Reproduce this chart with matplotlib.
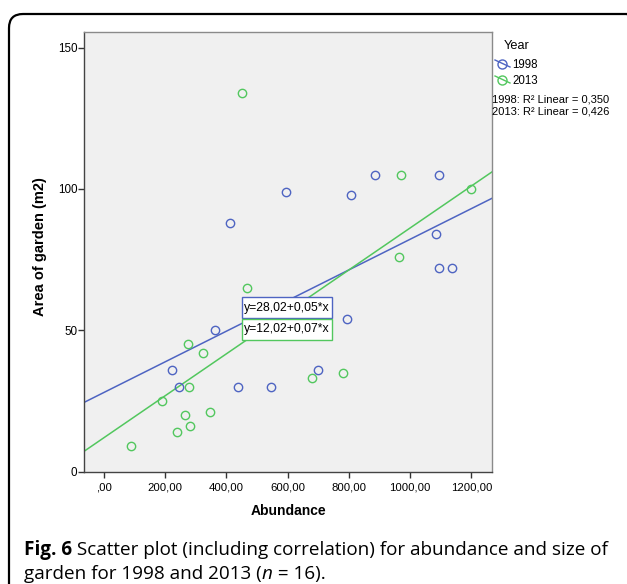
import numpy as np
import matplotlib
matplotlib.use("Agg")
import matplotlib.pyplot as plt
from matplotlib.patches import FancyBboxPatch, Rectangle
from matplotlib.lines import Line2D
from matplotlib.transforms import IdentityTransform

# data
abund_1998 = [221, 244, 362, 411, 438, 544, 593, 698, 793, 806, 885, 1083, 1094, 1095, 1138]
area_1998 = [36, 30, 50, 88, 30, 30, 99, 36, 54, 98, 105, 84, 105, 72, 72]
abund_2013 = [87, 190, 237, 265, 273, 278, 282, 325, 346, 450, 466, 680, 780, 963, 971, 1197]
area_2013 = [9, 25, 14, 20, 45, 30, 16, 42, 21, 134, 65, 33, 35, 76, 105, 100]

fit_1998 = (28.02, 0.0542)
fit_2013 = (12.02, 0.0742)
eq_1998 = "y=28,02+0,05*x"
eq_2013 = "y=12,02+0,07*x"
r2_1998 = "0,350"
r2_2013 = "0,426"

x_ticks = [0, 200, 400, 600, 800, 1000, 1200]
y_ticks = [0, 50, 100, 150]

blue = "#4e64c2"
green = "#52c75e"

W, H = 627, 584
plt.rcParams["font.family"] = ["Liberation Sans", "DejaVu Sans"]

fig = plt.figure(figsize=(W / 100, H / 100), dpi=100)


def px(x, y):
    return x / W, 1 - y / H


ax = fig.add_axes([84 / W, 1 - 471.7 / H, (492.3 - 84) / W, (471.7 - 32.3) / H])
ax.set_facecolor("#f0f0f0")
ax.set_xlim(-65, 1268)
ax.set_ylim(0, 155.4)

for s in ["left", "bottom"]:
    ax.spines[s].set_color("#444444")
for s in ["top", "right"]:
    ax.spines[s].set_color("#8a8a8a")
for s in ax.spines.values():
    s.set_linewidth(1.0)

ax.set_xticks(x_ticks)
ax.set_xticklabels([",00" if t == 0 else f"{t},00" for t in x_ticks])
ax.set_yticks(y_ticks)
ax.tick_params(axis="x", length=4.3, width=1.0, pad=3.5, labelsize=8.2, color="#333333")
ax.tick_params(axis="y", length=4.3, width=1.0, pad=0.6, labelsize=8.4, color="#333333")

# regression lines
xl = np.array(ax.get_xlim())
ax.plot(xl, fit_1998[0] + fit_1998[1] * xl, color=blue, lw=1.1, zorder=2)
ax.plot(xl, fit_2013[0] + fit_2013[1] * xl, color=green, lw=1.1, zorder=2)

ax.plot(abund_1998, area_1998, "o", ms=6, mfc="none", mec=blue, mew=1.0, zorder=3)
ax.plot(abund_2013, area_2013, "o", ms=6, mfc="none", mec=green, mew=1.0, zorder=3)

# equation boxes
bx, bw, bh = (242.3 - 84) / 408.3, 89.7 / 408.3, 21 / 439.4
for i, (txt, col) in enumerate([(eq_1998, blue), (eq_2013, green)]):
    y0 = (471.7 - 318.3 - 21.5 * i) / 439.4
    ax.add_patch(Rectangle((bx, y0), bw, bh, transform=ax.transAxes,
                           facecolor="white", edgecolor=col, lw=1.0, zorder=5))
    ax.text(bx + bw / 2, y0 + bh / 2, txt, transform=ax.transAxes,
            ha="center", va="center", fontsize=8.8, zorder=6)

# axis titles
fig.text(*px(288, 511), "Abundance", ha="center", va="center",
         fontsize=10, fontweight="bold")
fig.text(*px(40, 247), "Area of garden (m2)", ha="center", va="center",
         rotation=90, fontsize=10.5, fontweight="bold")

# legend
fig.text(*px(504, 46), "Year", ha="left", va="center", fontsize=9.2)
for yy, col, lab in [(64, blue, "1998"), (80, green, "2013")]:
    fig.add_artist(Line2D([495 / W, 510 / W], [1 - (yy - 4) / H, 1 - (yy + 3) / H],
                          color=col, lw=1.0))
    fig.add_artist(Line2D([502 / W], [1 - yy / H], marker="o", ms=6.5,
                          mfc="none", mec=col, mew=1.0))
    fig.text(*px(512, yy + 1), lab, ha="left", va="center", fontsize=8.3)
fig.text(*px(492, 99), "1998: R² Linear = " + r2_1998, ha="left", va="center", fontsize=8.0)
fig.text(*px(492, 111.5), "2013: R² Linear = " + r2_2013, ha="left", va="center", fontsize=8.0)

# rounded frame, right side runs off the picture
fig.patches.append(FancyBboxPatch((9, -60), 632, H - 14 + 60,
                                  boxstyle="round,pad=0,rounding_size=14",
                                  transform=IdentityTransform(), fill=False,
                                  edgecolor="black", lw=1.6))

# caption
cap_font = ["Open Sans", "DejaVu Sans"]
cap_size = 13.6
renderer = fig.canvas.get_renderer()


def write_line(pieces, x, y):
    for txt, weight, style in pieces:
        t = fig.text(x / W, 1 - y / H, txt, ha="left", va="baseline",
                     fontsize=cap_size, family=cap_font, fontweight=weight,
                     fontstyle=style)
        bb = t.get_window_extent(renderer=renderer)
        x += bb.width


write_line([("Fig. 6", "bold", "normal"),
            (" Scatter plot (including correlation) for abundance and size of", "normal", "normal")],
           24, 555)
write_line([("garden for 1998 and 2013 (", "normal", "normal"),
            ("n", "normal", "italic"),
            (" = 16).", "normal", "normal")],
           24, 579)

fig.savefig("out.png", dpi=100)
